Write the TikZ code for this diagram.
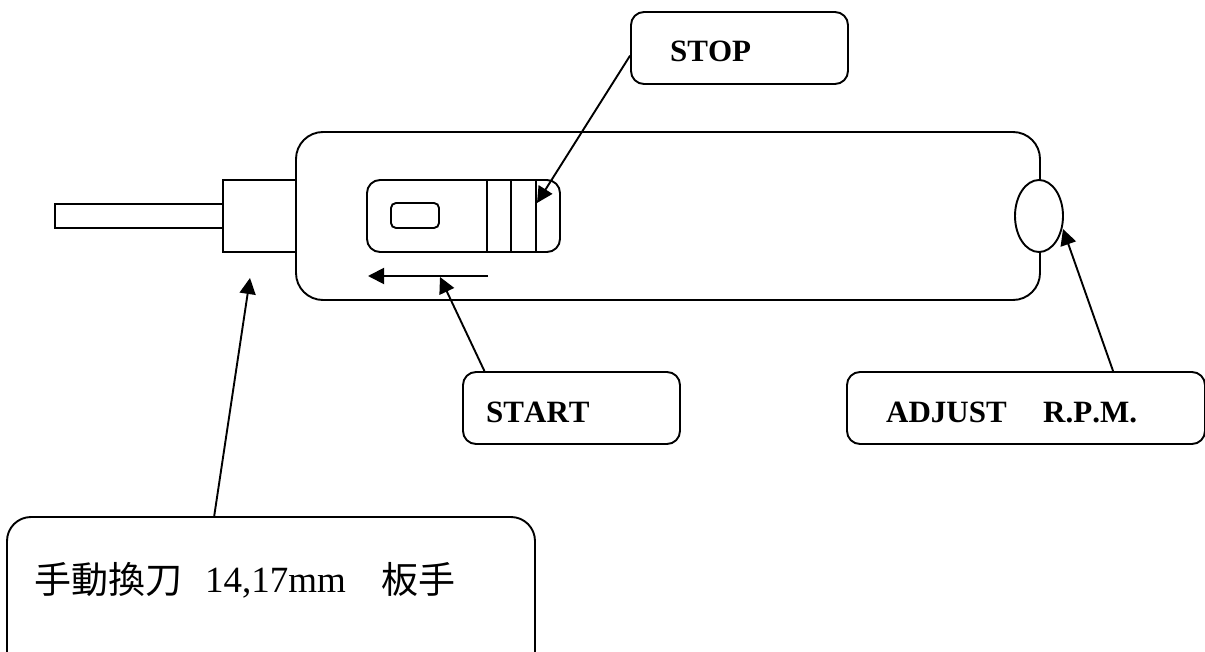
\documentclass[tikz,border=0pt]{standalone}
\usepackage{fontspec}
\setmainfont{Liberation Serif}[Kerning=Off]
\newfontfamily\cjk{Noto Sans CJK TC}
\usetikzlibrary{arrows.meta,shapes.geometric}
\tikzset{
  x=1pt,y=-1pt,
  part/.style={draw=black,line width=1.9pt,fill=white,rectangle,inner sep=0pt},
  callout/.style={part,rounded corners=13pt},
  lead/.style={draw=black,line width=1.9pt,-{Triangle[length=16pt,width=16pt]}},
  boldlabel/.style={anchor=base west,inner sep=0pt,font=\fontsize{31}{36}\selectfont\bfseries},
  cjklabel/.style={anchor=base west,inner sep=0pt,font=\fontsize{37}{42}\selectfont},
  divider/.style={draw=black,line width=1.9pt},
}
\newcommand{\boxat}[6]{\node[#1,minimum width=#5pt-#3pt,minimum height=#6pt-#4pt] (#2) at ({(#3+#5)/2},{(#4+#6)/2}) {};}
\begin{document}
\begin{tikzpicture}
\useasboundingbox (0,0) rectangle (1205,652);
\clip (0,0) rectangle (1205,652);
% tool body
\boxat{part,rounded corners=27pt}{body}{296}{132}{1040}{300}
\boxat{part}{rod}{55}{204}{223}{228}
\boxat{part}{collar}{223}{180}{296}{252}
\node[part,ellipse,minimum width=48pt,minimum height=72pt] (knob) at (1039,216) {};
% switch
\boxat{part,rounded corners=13pt}{switch}{367}{180}{560}{252}
\boxat{part,rounded corners=5pt}{window}{391}{203}{439}{228}
\coordinate (ridgeAt) at (487,180); \coordinate (ridgeAb) at (487,252);
\coordinate (ridgeBt) at (511,180); \coordinate (ridgeBb) at (511,252);
\coordinate (ridgeCt) at (536,180); \coordinate (ridgeCb) at (536,252);
\draw[divider] (ridgeAt) -- (ridgeAb);
\draw[divider] (ridgeBt) -- (ridgeBb);
\draw[divider] (ridgeCt) -- (ridgeCb);
% direction arrow
\coordinate (dirstart) at (488,276);
\coordinate (dirend) at (368,276);
\draw[lead] (dirstart) -- (dirend);
% callouts
\boxat{callout}{stopbox}{631}{12}{848}{84}
\boxat{callout}{startbox}{463}{372}{680}{444}
\boxat{callout}{adjustbox}{847}{372}{1205}{444}
\boxat{part,rounded corners=24pt}{toolbox}{7}{517}{535}{690}
\node[boldlabel] (stoplabel) at (670,62) {STOP};
\node[boldlabel] (startlabel) at (486,422) {START};
\node[boldlabel] (adjustlabel) at (886,422) {ADJUST};
\node[boldlabel] (rpmlabel) at (1043,422) {R.P.M.};
\node[cjklabel] (toollabelA) at (34,593) {\cjk 手動換刀};
\node[cjklabel] (toollabelB) at (205,592) {14,17mm};
\node[cjklabel] (toollabelC) at (381,593) {\cjk 板手};
% leaders
\coordinate (stoptip) at (537,203);
\coordinate (starttip) at (440,277);
\coordinate (adjusttip) at (1063,229);
\coordinate (tooltip) at (250,278);
\draw[lead] (stopbox.184.3) -- (stoptip);
\draw[lead] (startbox.157.2) -- (starttip);
\draw[lead] (adjustbox.23) -- (adjusttip);
\draw[lead] (toolbox.123.8) -- (tooltip);
\end{tikzpicture}
\end{document}
